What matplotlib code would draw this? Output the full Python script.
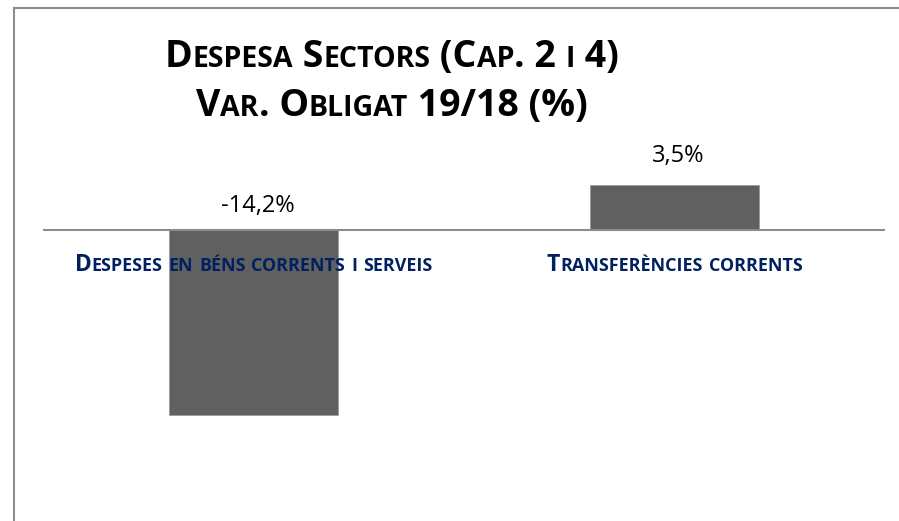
import matplotlib
matplotlib.use('Agg')
import matplotlib.pyplot as plt
from matplotlib.transforms import IdentityTransform
from matplotlib.lines import Line2D
from matplotlib.font_manager import FontProperties

# data
categories = ['Despeses en béns corrents i serveis', 'Transferències corrents']
values = [-14.2, 3.5]
value_labels = ['-14,2%', '3,5%']
title_lines = ['Despesa Sectors (Cap. 2 i 4)', 'Var. Obligat 19/18 (%)']

FONT = 'Open Sans'
W, H = 899, 521


def split_runs(s):
    # runs of (text, is_small): lowercase letters become small capitals
    runs = []
    for ch in s:
        small = ch.islower()
        if runs and runs[-1][1] == small:
            runs[-1][0] += ch
        else:
            runs.append([ch, small])
    return runs


def text_advance(renderer, s, prop):
    w1, _, _ = renderer.get_text_width_height_descent('|' + s + '|', prop, ismath=False)
    w0, _, _ = renderer.get_text_width_height_descent('||', prop, ismath=False)
    return w1 - w0


def smallcaps(fig, x, y, s, size, ratio=0.78, color='black', weight='bold', zorder=5):
    # x, y in pixels from bottom-left, text centred on x, baseline on y
    renderer = fig.canvas.get_renderer()
    runs = split_runs(s)
    pieces = []
    total = 0
    for txt, small in runs:
        prop = FontProperties(family=FONT, weight=weight, size=size * (ratio if small else 1))
        w = text_advance(renderer, txt.upper(), prop)
        pieces.append((txt.upper(), prop, w))
        total += w
    cx = x - total / 2
    for txt, prop, w in pieces:
        fig.text(cx, y, txt, fontproperties=prop, color=color, ha='left', va='baseline',
                 transform=IdentityTransform(), zorder=zorder)
        cx += w


fig = plt.figure(figsize=(W / 100, H / 100), dpi=100)

# axes geometry: zero line at y=230 px, 13 px per unit
scale = 13.0
ymin, ymax = -22, 7
top_px = 230 - ymax * scale
height_px = (ymax - ymin) * scale
ax = fig.add_axes([43 / W, (H - top_px - height_px) / H, 842 / W, height_px / H])
ax.set_xlim(-0.5, 1.5)
ax.set_ylim(ymin, ymax)
for sp in ax.spines.values():
    sp.set_visible(False)
ax.set_xticks([])
ax.set_yticks([])
ax.patch.set_alpha(0)

x = list(range(len(categories)))
ax.bar(x, values, width=0.4, color='#606060', edgecolor='#9a9a9a', linewidth=0.6, zorder=2)
ax.axhline(0, color='#8c8c8c', linewidth=1.5, zorder=3)

fig.canvas.draw()

# data labels
label_base = [H - 212, H - 162]
for i, (lab, v) in enumerate(zip(value_labels, values)):
    px, _ = ax.transData.transform((x[i], 0))
    fig.text(px + 4, label_base[i], lab, fontsize=17, family=FONT, color='black',
             ha='center', va='baseline', transform=IdentityTransform())

# category labels
for i, cat in enumerate(categories):
    px, _ = ax.transData.transform((x[i], 0))
    smallcaps(fig, px, H - 271, cat, 16.5, ratio=0.78, color='#002060')

# title
smallcaps(fig, 392, H - 67, title_lines[0], 27, ratio=0.76)
smallcaps(fig, 392, H - 116, title_lines[1], 27, ratio=0.76)

# chart frame (left and top edges)
fig.add_artist(Line2D([13.5 / W, 13.5 / W], [0, 1 - 8 / H], color='#8c8c8c', linewidth=1.5,
                      transform=fig.transFigure))
fig.add_artist(Line2D([13.5 / W, 1], [1 - 8 / H, 1 - 8 / H], color='#8c8c8c', linewidth=1.5,
                      transform=fig.transFigure))

fig.savefig('out.png', dpi=100)
